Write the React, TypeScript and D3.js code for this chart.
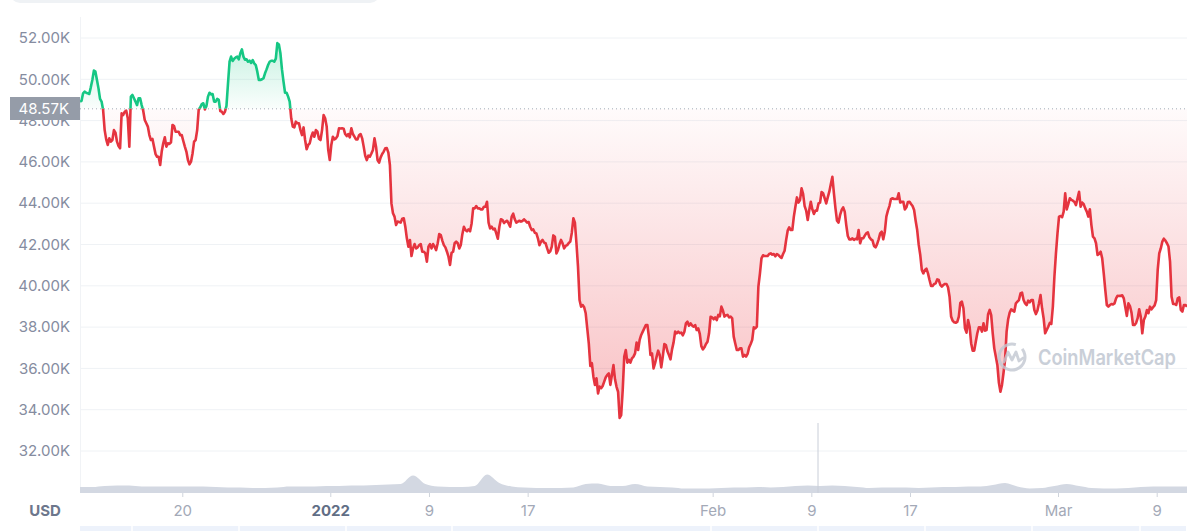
import React, { useEffect, useRef } from 'react';
import * as d3 from 'd3';

// BTC/USD, 3-hourly prices in thousands of USD
const START_TIME = Date.UTC(2021, 11, 11, 16);
const PRICE_STEP_HOURS = 3;
const VOLUME_STEP_HOURS = 24;
const BASELINE_PRICE = 48.57;

const prices = [
  48.92, 48.96, 49.32, 49.40, 49.35, 49.32, 49.29, 49.61, 49.97, 50.42,
  50.37, 49.97, 49.56, 49.05, 48.92, 48.51, 47.54, 47.09, 46.82, 47.14,
  46.98, 47.06, 47.54, 47.42, 46.98, 46.77, 46.66, 48.35, 48.27, 48.43,
  48.48, 48.11, 46.74, 49.16, 49.24, 49.08, 48.92, 48.75, 49.08, 49.08,
  48.75, 48.48, 48.03, 47.87, 47.71, 47.30, 47.06, 47.11, 46.74, 46.38,
  46.25, 46.25, 45.85, 46.50, 46.90, 47.19, 46.74, 46.90, 46.87, 46.95,
  47.79, 47.74, 47.46, 47.46, 47.46, 47.29, 47.30, 47.01, 46.74, 46.50,
  46.09, 45.88, 46.01, 46.41, 46.98, 47.06, 47.54, 48.54, 48.64, 48.80,
  48.84, 48.54, 48.71, 49.16, 49.35, 49.27, 49.29, 48.92, 48.92, 49.05,
  49.00, 48.46, 48.43, 48.32, 48.43, 48.71, 49.80, 50.85, 51.10, 50.89,
  51.00, 51.06, 51.10, 50.97, 51.26, 51.45, 51.10, 50.95, 50.97, 50.85,
  50.90, 50.79, 50.93, 50.77, 50.69, 50.37, 49.97, 49.97, 50.00, 50.05,
  50.29, 50.48, 50.69, 50.85, 50.90, 50.90, 50.85, 51.00, 51.75, 51.69,
  51.26, 50.48, 49.89, 49.35, 49.35, 49.16, 48.92, 48.11, 47.71, 47.67,
  47.95, 47.87, 47.87, 47.54, 47.30, 47.67, 47.06, 46.61, 46.82, 46.90,
  47.22, 47.42, 47.22, 47.54, 47.46, 47.12, 47.06, 47.54, 48.27, 48.11,
  47.71, 46.58, 46.09, 46.82, 47.22, 47.09, 47.14, 47.25, 47.63, 47.62,
  47.63, 47.61, 47.35, 47.25, 47.35, 47.19, 47.63, 47.35, 47.22, 47.09,
  47.09, 47.29, 47.35, 47.14, 46.74, 46.29, 46.09, 46.30, 46.25, 46.41,
  46.58, 47.14, 46.74, 46.09, 45.96, 46.22, 46.38, 46.50, 46.66, 46.67,
  46.45, 45.85, 43.99, 43.51, 43.35, 42.94, 43.11, 43.09, 43.06, 43.25,
  43.27, 42.86, 42.30, 41.89, 42.22, 41.44, 41.81, 42.02, 41.81, 41.86,
  41.97, 42.02, 41.65, 41.65, 41.57, 41.17, 41.89, 42.02, 41.81, 42.02,
  41.89, 41.73, 42.06, 42.51, 42.46, 42.19, 41.97, 41.86, 41.65, 41.41,
  41.01, 41.60, 41.65, 42.06, 42.14, 42.06, 41.81, 41.98, 42.50, 42.86,
  42.70, 42.64, 42.73, 42.64, 43.02, 43.75, 43.75, 43.86, 43.75, 43.75,
  43.70, 43.70, 43.83, 43.83, 44.07, 43.06, 42.78, 42.86, 42.73, 42.77,
  42.54, 42.28, 42.86, 43.22, 43.19, 43.04, 43.11, 43.15, 43.02, 42.86,
  43.35, 43.49, 43.22, 43.06, 43.11, 43.15, 43.11, 43.14, 43.22, 43.14,
  43.06, 43.09, 42.86, 42.70, 42.73, 42.57, 42.54, 42.30, 41.97, 42.14,
  42.22, 42.09, 42.06, 41.81, 41.60, 41.67, 41.90, 42.44, 42.38, 41.57,
  41.73, 42.01, 42.22, 42.06, 41.81, 41.93, 41.97, 42.07, 42.14, 42.57,
  43.27, 43.06, 42.06, 40.93, 39.31, 38.99, 39.07, 38.96, 38.67, 37.94,
  37.21, 36.12, 36.25, 35.60, 35.20, 35.52, 34.79, 35.12, 35.04, 35.15,
  35.36, 35.57, 35.68, 35.76, 35.20, 35.68, 36.16, 35.47, 35.11, 34.86,
  33.60, 33.74, 34.95, 36.57, 36.89, 36.28, 36.41, 36.28, 36.49, 36.57,
  36.73, 37.25, 36.89, 37.38, 37.62, 37.78, 37.94, 38.10, 38.10, 37.54,
  36.65, 36.73, 36.00, 36.25, 36.57, 36.86, 36.65, 36.05, 36.57, 37.18,
  37.13, 36.83, 36.65, 36.44, 36.92, 37.26, 37.78, 37.70, 37.78, 37.71,
  37.73, 37.60, 37.78, 38.18, 38.26, 38.07, 38.18, 38.08, 38.02, 38.10,
  37.86, 37.94, 37.67, 37.08, 36.92, 37.02, 37.18, 37.29, 37.70, 38.50,
  38.47, 38.38, 38.47, 38.34, 38.59, 38.52, 38.99, 38.80, 38.51, 38.57,
  38.59, 38.47, 38.51, 38.42, 37.54, 37.21, 36.89, 36.89, 36.97, 36.97,
  36.57, 36.65, 36.57, 36.70, 37.02, 37.18, 37.38, 37.99, 37.94, 38.02,
  39.96, 40.59, 41.33, 41.48, 41.44, 41.44, 41.44, 41.54, 41.57, 41.51,
  41.54, 41.43, 41.54, 41.49, 41.41, 41.35, 41.54, 41.70, 42.22, 42.67,
  42.83, 42.70, 42.70, 43.35, 43.83, 44.28, 44.03, 44.15, 44.72, 44.45,
  43.86, 43.64, 43.19, 43.67, 44.07, 43.70, 43.48, 43.64, 43.64, 43.99,
  44.03, 44.54, 44.48, 44.24, 43.99, 44.28, 44.56, 44.93, 45.28, 44.48,
  43.75, 43.15, 43.06, 43.43, 43.67, 43.80, 43.59, 42.94, 42.41, 42.25,
  42.25, 42.30, 42.22, 42.28, 42.25, 42.70, 42.06, 42.30, 42.30, 42.43,
  42.54, 42.59, 42.35, 42.25, 42.20, 41.93, 41.86, 42.02, 42.25, 42.54,
  42.62, 42.25, 42.62, 43.35, 43.64, 43.86, 44.20, 44.24, 44.20, 44.20,
  44.20, 44.48, 44.03, 44.07, 44.07, 43.70, 43.80, 44.06, 44.07, 43.96,
  43.86, 43.67, 43.15, 42.70, 41.98, 41.49, 40.77, 40.60, 40.77, 40.83,
  40.60, 40.28, 39.99, 39.99, 40.09, 40.12, 40.31, 40.28, 40.04, 39.96,
  40.04, 40.09, 40.09, 39.93, 39.47, 38.51, 38.31, 38.23, 38.21, 38.25,
  38.51, 39.18, 39.23, 38.91, 37.94, 37.73, 38.34, 38.02, 37.22, 36.86,
  36.86, 37.29, 37.70, 37.99, 37.99, 37.78, 38.18, 37.83, 37.86, 38.63,
  38.83, 38.58, 37.70, 36.97, 36.57, 36.17, 35.30, 34.87, 35.20, 35.79,
  36.41, 37.78, 38.38, 38.70, 38.86, 38.80, 38.75, 39.15, 39.23, 39.31,
  39.63, 39.67, 39.31, 39.15, 39.07, 39.28, 39.20, 39.31, 39.31, 38.83,
  38.63, 38.80, 39.15, 39.55, 38.91, 38.43, 37.70, 37.86, 38.02, 38.20,
  38.15, 38.99, 40.44, 41.57, 42.54, 43.35, 43.38, 43.32, 43.59, 44.48,
  43.70, 43.96, 44.24, 44.16, 44.12, 44.06, 43.91, 44.24, 44.55, 43.83,
  44.03, 43.95, 43.75, 43.59, 43.35, 43.70, 42.94, 42.38, 42.30, 42.06,
  41.49, 41.54, 41.65, 41.33, 40.60, 39.80, 39.07, 38.99, 39.07, 39.12,
  39.10, 39.15, 39.39, 39.52, 39.51, 39.51, 39.54, 39.39, 38.96, 38.54,
  39.15, 39.02, 38.70, 38.10, 38.10, 38.20, 38.43, 38.86, 38.51, 37.70,
  38.34, 38.51, 38.83, 38.67, 38.99, 38.86, 38.96, 39.05, 39.31, 40.77,
  41.57, 41.81, 42.14, 42.28, 42.19, 42.06, 41.90, 41.17, 39.47, 39.12,
  39.12, 39.07, 39.39, 39.44, 38.83, 38.75, 39.07, 39.07, 38.99,
];

// daily volume, billions USD
const volumes = [
  24, 24, 28, 30, 30, 26, 26, 26, 26, 26,
  26, 24, 22, 22, 20, 20, 22, 26, 26, 26,
  28, 28, 30, 30, 32, 34, 36, 70, 36, 26,
  24, 24, 28, 74, 40, 26, 22, 20, 20, 20,
  22, 36, 38, 28, 28, 36, 26, 24, 22, 18,
  18, 18, 20, 22, 22, 24, 22, 24, 28, 30,
  28, 30, 28, 24, 20, 22, 22, 22, 20, 22,
  24, 24, 26, 26, 32, 40, 26, 18, 20, 28,
  36, 28, 20, 18, 18, 20, 24, 26, 26, 26,
  26,
];

const volumeSpikeTime = Date.UTC(2022, 1, 9, 12);
const volumeSpikeValue = 280;

const yTickValues = [32, 34, 36, 38, 40, 42, 44, 46, 48, 50, 52];

const xTickDates = [
  Date.UTC(2021, 11, 20),
  Date.UTC(2022, 0, 1),
  Date.UTC(2022, 0, 9),
  Date.UTC(2022, 0, 17),
  Date.UTC(2022, 1, 1),
  Date.UTC(2022, 1, 9),
  Date.UTC(2022, 1, 17),
  Date.UTC(2022, 2, 1),
  Date.UTC(2022, 2, 9),
];
const xTickLabels = ['20', '2022', '9', '17', 'Feb', '9', '17', 'Mar', '9'];

const HOUR = 3600 * 1000;

const App: React.FC = () => {
  const svgRef = useRef<SVGSVGElement>(null);
  const width = 1200;
  const height = 531;

  useEffect(() => {
    if (!svgRef.current) return;
    const svg = d3.select(svgRef.current);
    svg.selectAll('*').remove();

    const left = 80;
    const right = 1187;
    const volBase = 493;
    const font = 'Inter, "Noto Sans", sans-serif';

    const priceData = prices.map((p, i) => ({ t: START_TIME + i * PRICE_STEP_HOURS * HOUR, v: p }));
    const volData = volumes.map((v, i) => ({ t: START_TIME + i * VOLUME_STEP_HOURS * HOUR, v }));

    const x = d3
      .scaleUtc()
      .domain([START_TIME, START_TIME + (prices.length - 1) * PRICE_STEP_HOURS * HOUR])
      .range([left, right]);
    const y = d3.scaleLinear().domain([32, 52]).range([451, 38]);
    const yVol = d3.scaleLinear().domain([0, 100]).range([volBase, volBase - 25]);
    const baseY = y(BASELINE_PRICE);

    const defs = svg.append('defs');
    defs.append('clipPath').attr('id', 'clip-up')
      .append('rect').attr('x', left).attr('y', 0).attr('width', right - left).attr('height', baseY);
    defs.append('clipPath').attr('id', 'clip-down')
      .append('rect').attr('x', left).attr('y', baseY).attr('width', right - left).attr('height', height - baseY);
    defs.append('clipPath').attr('id', 'clip-plot')
      .append('rect').attr('x', left).attr('y', 0).attr('width', right - left).attr('height', height);

    const gUp = defs.append('linearGradient').attr('id', 'grad-up')
      .attr('gradientUnits', 'userSpaceOnUse')
      .attr('x1', 0).attr('x2', 0).attr('y1', y(52)).attr('y2', baseY);
    gUp.append('stop').attr('offset', 0).attr('stop-color', '#16c784').attr('stop-opacity', 0.26);
    gUp.append('stop').attr('offset', 1).attr('stop-color', '#16c784').attr('stop-opacity', 0.02);

    const gDown = defs.append('linearGradient').attr('id', 'grad-down')
      .attr('gradientUnits', 'userSpaceOnUse')
      .attr('x1', 0).attr('x2', 0).attr('y1', baseY).attr('y2', y(33.5));
    gDown.append('stop').attr('offset', 0).attr('stop-color', '#ea3943').attr('stop-opacity', 0.02);
    gDown.append('stop').attr('offset', 1).attr('stop-color', '#ea3943').attr('stop-opacity', 0.32);

    // top tab strip remnant
    svg.append('rect').attr('x', 10).attr('y', -20).attr('width', 370).attr('height', 23)
      .attr('rx', 10).attr('fill', '#eff2f5');

    // grid
    svg.append('g').selectAll('line').data(yTickValues).join('line')
      .attr('x1', left).attr('x2', right)
      .attr('y1', d => y(d)).attr('y2', d => y(d))
      .attr('stroke', '#eff2f5').attr('stroke-width', 1);
    svg.append('line').attr('x1', left + 0.5).attr('x2', left + 0.5).attr('y1', 17).attr('y2', volBase)
      .attr('stroke', '#f1f3f6');

    // y labels
    svg.append('g').selectAll('text').data(yTickValues).join('text')
      .attr('x', 70).attr('y', d => y(d)).attr('dy', '0.35em')
      .attr('text-anchor', 'end')
      .attr('font-family', font).attr('font-size', 15)
      .attr('fill', '#858ca0')
      .text(d => `${d.toFixed(2)}K`);

    // volume
    const volArea = d3.area<{ t: number; v: number }>()
      .x(d => x(d.t)).y0(volBase).y1(d => yVol(d.v))
      .curve(d3.curveMonotoneX);
    const gVol = svg.append('g').attr('clip-path', 'url(#clip-plot)');
    gVol.append('path').datum(volData).attr('d', volArea).attr('fill', '#d3d8e2');
    gVol.append('line')
      .attr('x1', x(volumeSpikeTime)).attr('x2', x(volumeSpikeTime))
      .attr('y1', yVol(0)).attr('y2', yVol(volumeSpikeValue))
      .attr('stroke', '#c9ced8').attr('stroke-width', 1);

    // baseline
    svg.append('line').attr('x1', left).attr('x2', right).attr('y1', baseY).attr('y2', baseY)
      .attr('stroke', '#a3aab7').attr('stroke-width', 1).attr('stroke-dasharray', '1,3');

    const area = d3.area<{ t: number; v: number }>()
      .x(d => x(d.t)).y0(baseY).y1(d => y(d.v));
    const line = d3.line<{ t: number; v: number }>()
      .x(d => x(d.t)).y(d => y(d.v));

    svg.append('path').datum(priceData).attr('d', area)
      .attr('fill', 'url(#grad-up)').attr('clip-path', 'url(#clip-up)');
    svg.append('path').datum(priceData).attr('d', area)
      .attr('fill', 'url(#grad-down)').attr('clip-path', 'url(#clip-down)');
    svg.append('path').datum(priceData).attr('d', line)
      .attr('fill', 'none').attr('stroke', '#16c784').attr('stroke-width', 2.6)
      .attr('stroke-linejoin', 'round').attr('clip-path', 'url(#clip-up)');
    svg.append('path').datum(priceData).attr('d', line)
      .attr('fill', 'none').attr('stroke', '#e5343f').attr('stroke-width', 2.6)
      .attr('stroke-linejoin', 'round').attr('clip-path', 'url(#clip-down)');

    // current-open label
    svg.append('rect').attr('x', 10).attr('y', 97).attr('width', 70).attr('height', 23)
      .attr('fill', '#959ca8');
    svg.append('text').attr('x', 69).attr('y', baseY).attr('dy', '0.35em')
      .attr('text-anchor', 'end').attr('font-family', font).attr('font-size', 15)
      .attr('fill', '#ffffff').text(`${BASELINE_PRICE.toFixed(2)}K`);

    // x axis
    const gx = svg.append('g');
    gx.selectAll('line').data(xTickDates).join('line')
      .attr('x1', d => x(d)).attr('x2', d => x(d))
      .attr('y1', volBase).attr('y2', volBase + 4)
      .attr('stroke', '#cfd4dc');
    gx.selectAll('text').data(xTickDates).join('text')
      .attr('x', d => x(d)).attr('y', 516)
      .attr('text-anchor', 'middle')
      .attr('font-family', font).attr('font-size', 15)
      .attr('font-weight', (_d, i) => (xTickLabels[i] === '2022' ? 700 : 400))
      .attr('fill', (_d, i) => (xTickLabels[i] === '2022' ? '#616e85' : '#a3a9b7'))
      .text((_d, i) => xTickLabels[i]);
    svg.append('text').attr('x', 45).attr('y', 516).attr('text-anchor', 'middle')
      .attr('font-family', font).attr('font-size', 15).attr('font-weight', 700)
      .attr('fill', '#6d778c').text('USD');

    // navigator strip
    svg.append('rect').attr('x', left).attr('y', 526).attr('width', right - left - 1).attr('height', 6)
      .attr('fill', '#edf2fb');
    [132, 239, 346, 452, 711, 818, 925, 1032, 1140].forEach(px => {
      svg.append('line').attr('x1', px).attr('x2', px).attr('y1', 526).attr('y2', 531)
        .attr('stroke', '#ffffff').attr('stroke-width', 1.5);
    });

    // watermark
    const wm = svg.append('g').attr('transform', 'translate(1012,357)').attr('opacity', 0.8);
    wm.append('path')
      .attr('d', d3.arc()({ innerRadius: 11.5, outerRadius: 14.5, startAngle: 0.9, endAngle: 2 * Math.PI + 0.3 }) as string)
      .attr('fill', '#c2c8d2');
    wm.append('path')
      .attr('d', 'M-8,5 L-4,-5 L0,3 L4,-5 L7,4 L11,1')
      .attr('fill', 'none').attr('stroke', '#c2c8d2').attr('stroke-width', 2.8)
      .attr('stroke-linejoin', 'round').attr('stroke-linecap', 'round');
    svg.append('text').attr('x', 1038).attr('y', 358).attr('dy', '0.35em')
      .attr('font-family', font).attr('font-size', 21).attr('font-weight', 600)
      .attr('textLength', 138).attr('lengthAdjust', 'spacingAndGlyphs')
      .attr('fill', '#c4cad4').attr('opacity', 0.9)
      .text('CoinMarketCap');
  }, []);

  return (
    <svg
      ref={svgRef}
      width={width}
      height={height}
      style={{ position: 'absolute', left: 0, top: 0, background: '#ffffff' }}
    />
  );
};

export default App;
